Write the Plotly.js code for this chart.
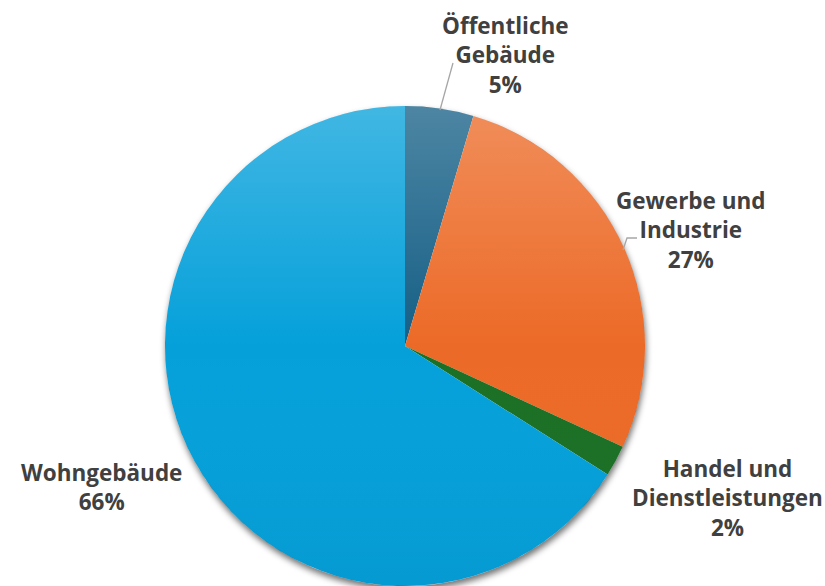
<!DOCTYPE html>
<html>
<head>
<meta charset="utf-8">
<script src="https://cdn.plot.ly/plotly-3.0.1.min.js"></script>
<style>html,body{margin:0;padding:0;background:#fff;}#chart{width:825px;height:586px;}</style>
</head>
<body>
<div id="chart"></div>
<script>
// Data
const categories = ["Öffentliche Gebäude", "Gewerbe und Industrie", "Handel und Dienstleistungen", "Wohngebäude"];
const labelLines = ["Öffentliche<br>Gebäude", "Gewerbe und<br>Industrie", "Handel und<br>Dienstleistungen", "Wohngebäude"];
const shares = [4.6, 27.3, 2.1, 66.0];
const colors = ["#155F86", "#EC6A27", "#1A7025", "#05A0DA"];

const total = shares.reduce((a, b) => a + b, 0);
const pctText = shares.map(v => Math.round(v / total * 100) + "%");

// figure geometry (pixels)
const W = 825, H = 586;
const R = 240, CX = 405, CY = 346;
const labelPos = [[506, 55], [691, 230], [727, 498], [101, 487]];

const annotations = labelLines.map((l, i) => ({
  text: l + "<br>" + pctText[i],
  xref: "paper", yref: "paper",
  x: labelPos[i][0] / W, y: 1 - labelPos[i][1] / H,
  xanchor: "center", yanchor: "middle",
  showarrow: false, align: "center",
  font: {family: "Open Sans, sans-serif", size: 22.5, color: "#404040", weight: 700}
}));

function px(x, y) { return (x / W).toFixed(5) + "," + (1 - y / H).toFixed(5); }
const shapes = [
  {type: "path", xref: "paper", yref: "paper", path: "M" + px(440, 110) + " L" + px(453, 63),
   line: {color: "#A6A6A6", width: 1.3}},
  {type: "path", xref: "paper", yref: "paper", path: "M" + px(623, 250) + " L" + px(627, 238) + " L" + px(637, 238),
   line: {color: "#A6A6A6", width: 1.3}}
];

// soft shading overlay + drop shadow outside the disc (styling only)
const PAD = 20, S = 2 * R + 2 * PAD, C = R + PAD;
const overlaySvg = '<svg xmlns="http://www.w3.org/2000/svg" width="' + S + '" height="' + S + '" viewBox="0 0 ' + S + ' ' + S + '">' +
  '<defs>' +
  '<linearGradient id="g" x1="0" y1="0" x2="0" y2="1">' +
  '<stop offset="0" stop-color="#fff" stop-opacity="0.24"/>' +
  '<stop offset="0.5" stop-color="#fff" stop-opacity="0"/>' +
  '<stop offset="1" stop-color="#000" stop-opacity="0.04"/>' +
  '</linearGradient>' +
  '<filter id="f" x="-10%" y="-10%" width="120%" height="120%"><feGaussianBlur stdDeviation="3"/></filter>' +
  '<mask id="m" maskUnits="userSpaceOnUse" x="0" y="0" width="' + S + '" height="' + S + '">' +
  '<rect x="0" y="0" width="' + S + '" height="' + S + '" fill="#fff"/>' +
  '<circle cx="' + C + '" cy="' + C + '" r="' + R + '" fill="#000"/></mask>' +
  '</defs>' +
  '<g mask="url(#m)"><circle cx="' + (C + 1) + '" cy="' + (C + 4) + '" r="' + R + '" fill="#000" fill-opacity="0.55" filter="url(#f)"/></g>' +
  '<circle cx="' + C + '" cy="' + C + '" r="' + R + '" fill="url(#g)"/></svg>';

const images = [
  {source: "data:image/svg+xml;charset=utf-8," + encodeURIComponent(overlaySvg),
   xref: "paper", yref: "paper", x: (CX - C) / W, y: 1 - (CY - C) / H,
   sizex: S / W, sizey: S / H, sizing: "stretch", xanchor: "left", yanchor: "top", layer: "above"}
];

const trace = {
  type: "pie",
  labels: categories,
  values: shares,
  sort: false,
  direction: "clockwise",
  rotation: 0,
  marker: {colors: colors, line: {width: 0}},
  textinfo: "none",
  hoverinfo: "label+percent",
  domain: {x: [0, 2 * CX / W], y: [1 - (CY + R) / H, 1 - (CY - R) / H]}
};

const layout = {
  width: W, height: H,
  margin: {l: 0, r: 0, t: 0, b: 0},
  showlegend: false,
  paper_bgcolor: "#ffffff",
  annotations: annotations,
  shapes: shapes,
  images: images
};

Plotly.newPlot("chart", [trace], layout, {displayModeBar: false, staticPlot: true});
</script>
</body>
</html>
